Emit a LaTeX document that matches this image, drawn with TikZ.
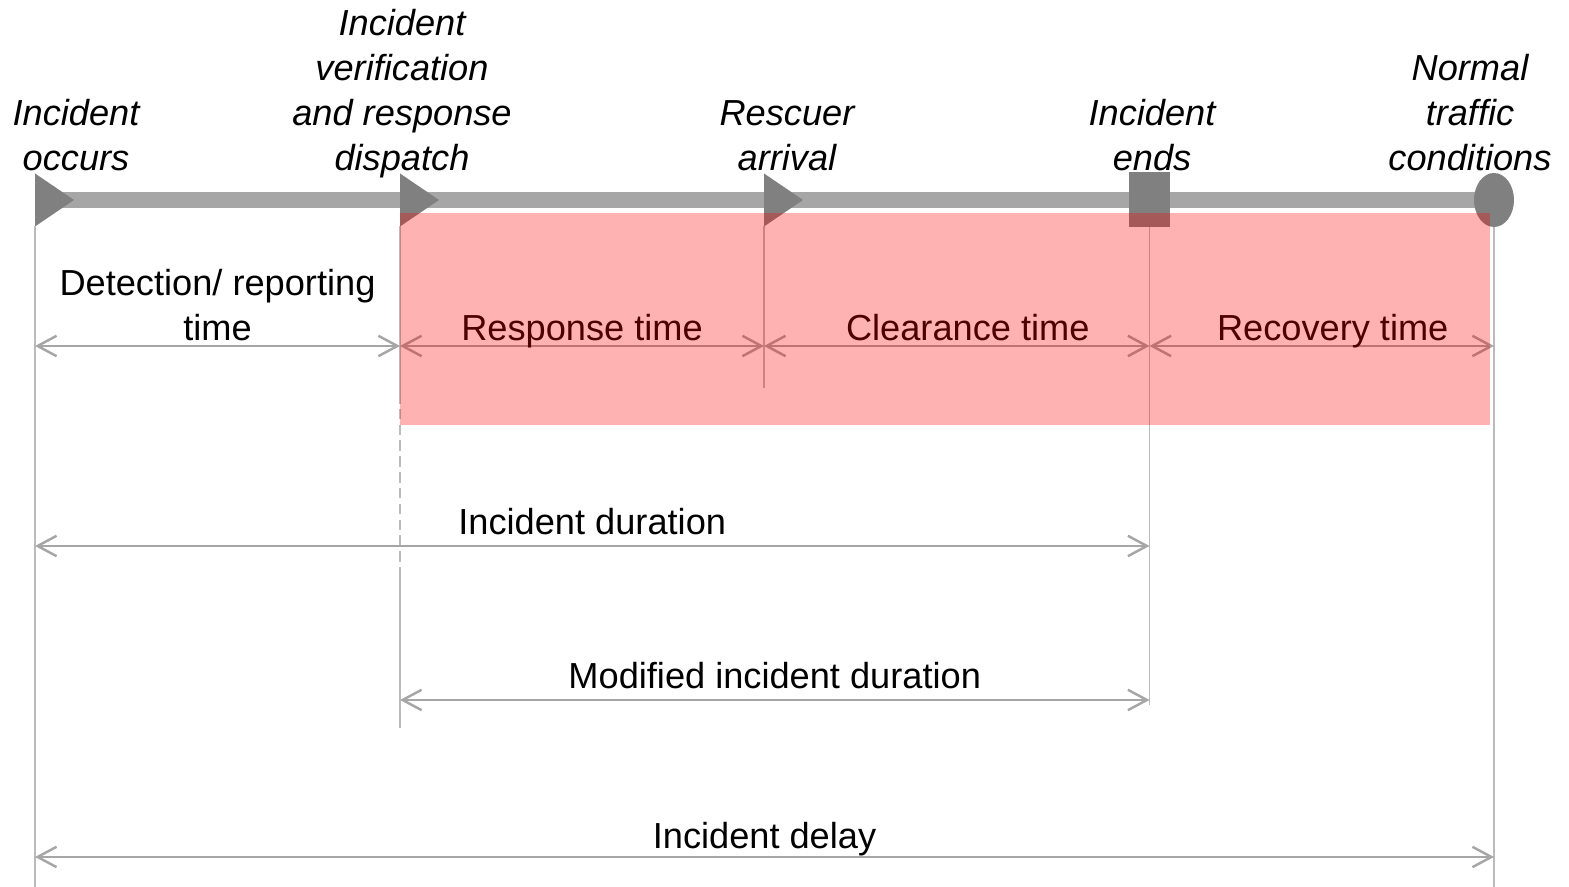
\documentclass[tikz,border=0pt]{standalone}
\usepackage{fontspec}
\setmainfont{Liberation Sans}
\usetikzlibrary{arrows.meta}
\definecolor{barGray}{HTML}{A6A6A6}
\definecolor{evtGray}{HTML}{808080}
\definecolor{guideGray}{HTML}{BBBBBB}

\begin{document}
\begin{tikzpicture}[line width=0.8pt,>={Straight Barb[length=5.4pt,width=5.8pt]},
  font=\fontsize{10.3pt}{12.8pt}\selectfont,
  guide/.style={guideGray,line width=0.45pt},
  span/.style={<->,barGray,line width=0.7pt},
  lbl/.style={midway,above=#1,inner sep=0pt,text depth=0pt,align=center,text=black},
  lbl/.default=0.04cm,
  evtlbl/.style={anchor=south,inner sep=0pt,text depth=0pt,align=center,font=\fontsize{10.3pt}{12.8pt}\selectfont\itshape}]
\useasboundingbox (0,0) rectangle (15.69,8.87);
% event points on the time line
\coordinate (occ) at (0.35,6.87);
\coordinate (dsp) at (4.00,6.87);
\coordinate (arr) at (7.64,6.87);
\coordinate (fin) at (11.495,6.87);
\coordinate (nrm) at (14.94,6.87);
% rows of the spans
\coordinate (r1) at (0,5.41);
\coordinate (r2) at (0,3.41);
\coordinate (r3) at (0,1.87);
\coordinate (r4) at (0,0.30);
\coordinate (bot) at (0,0);
% time line
\draw[barGray,line width=4.3pt] (occ) -- (nrm);
% markers
\foreach \p in {occ,dsp,arr}{
  \fill[evtGray] (\p) ++(0,0.265) -- ++(0.39,-0.265) -- ++(-0.39,-0.265) -- cycle;
}
\fill[evtGray] (fin) ++(-0.205,-0.275) rectangle ++(0.41,0.55);
\fill[evtGray] (nrm) ellipse [x radius=0.20,y radius=0.27];
% guide lines
\draw[guide] ([yshift=-0.265cm]occ) -- (occ |- bot);
\draw[guide] ([yshift=-0.265cm]dsp) -- ++(0,-1.665) coordinate (d1);
\draw[guide,dash pattern=on 3pt off 1.5pt] (d1) -- ++(0,-1.74) coordinate (d2);
\draw[guide] (d2) -- ++(0,-1.61);
\draw[guide] ([yshift=-0.265cm]arr) -- ++(0,-1.615);
\draw[guide] ([yshift=-0.275cm]fin) -- ++(0,-4.775);
\draw[guide] ([yshift=-0.27cm]nrm) -- (nrm |- bot);
% event labels
\node[evtlbl] (lOcc) at (0.76,7.15) {Incident\\occurs};
\node[evtlbl] (lDsp) at (4.02,7.15) {Incident\\verification\\and response\\dispatch};
\node[evtlbl] (lArr) at (7.87,7.15) {Rescuer\\arrival};
\node[evtlbl] (lFin) at (11.52,7.15) {Incident\\ends};
\node[evtlbl] (lNrm) at (14.70,7.15) {Normal\\traffic\\conditions};
% spans
\draw[span] (occ |- r1) -- (dsp |- r1) node[lbl] (tDet) {Detection/ reporting\\time};
\draw[span] (dsp |- r1) -- (arr |- r1) node[lbl] (tRsp) {Response time};
\draw[span] (arr |- r1) -- (fin |- r1) node[lbl,xshift=0.11cm] (tClr) {Clearance time};
\draw[span] (fin |- r1) -- (nrm |- r1) node[lbl,xshift=0.11cm] (tRec) {Recovery time};
\draw[span] (occ |- r2) -- (fin |- r2) node[lbl=0.10cm] (tDur) {Incident duration};
\draw[span] (dsp |- r3) -- (fin |- r3) node[lbl=0.10cm] (tMod) {Modified incident duration};
\draw[span] (occ |- r4) -- (nrm |- r4) node[lbl=0.07cm] (tDel) {Incident delay};
% response/clearance/recovery band
\fill[red,fill opacity=0.3] (4.00,6.74) rectangle (14.90,4.62);
\end{tikzpicture}
\end{document}
